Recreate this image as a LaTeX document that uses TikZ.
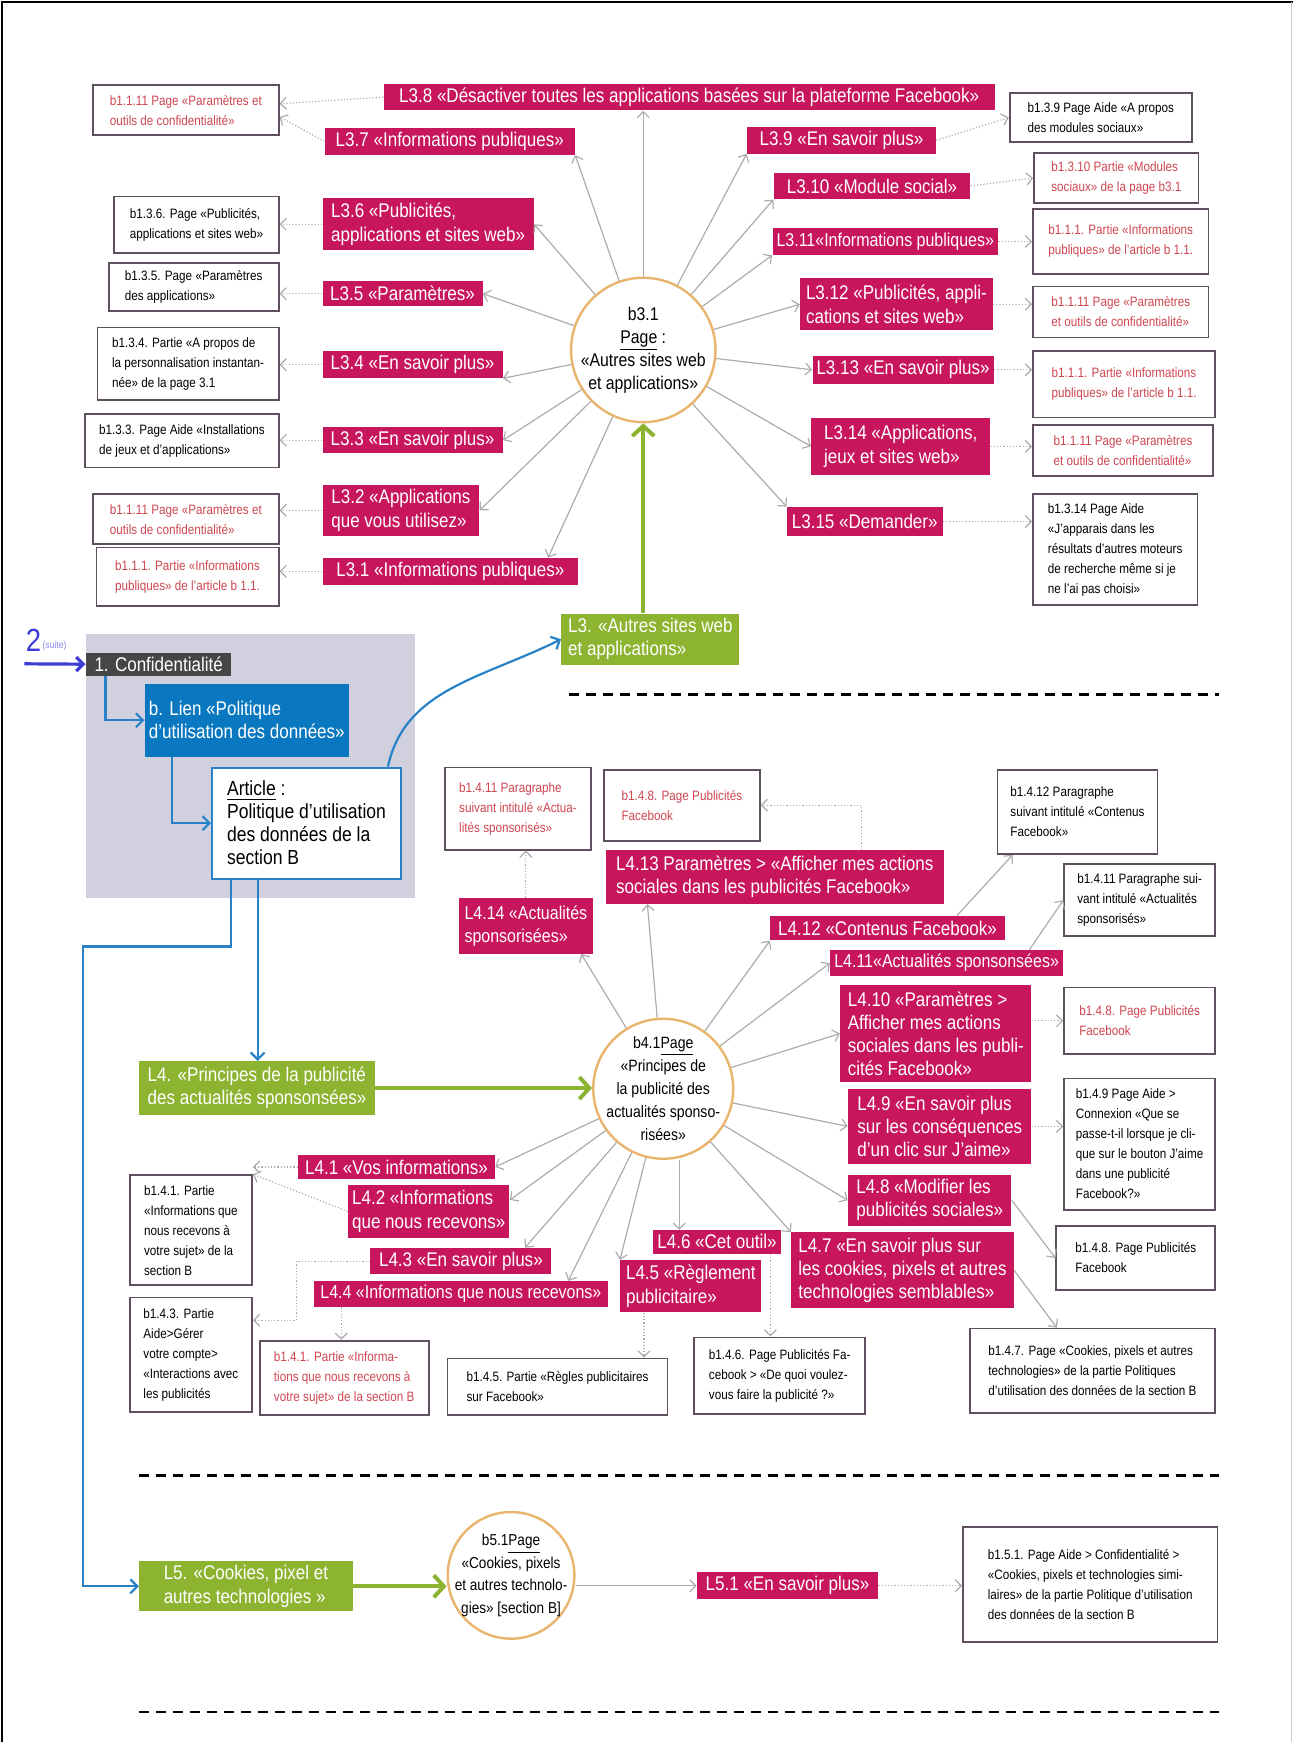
\documentclass[tikz,border=0pt]{standalone}
\usepackage{fontspec}
\setmainfont{Liberation Sans}[FakeStretch=0.86]
\setsansfont{Liberation Sans}[FakeStretch=0.86]
\usetikzlibrary{arrows.meta}

\definecolor{lnkc}{RGB}{200,22,92}
\definecolor{grnc}{RGB}{141,180,49}
\definecolor{bluc}{RGB}{40,130,200}
\definecolor{lienc}{RGB}{10,120,192}
\definecolor{confc}{RGB}{70,70,70}
\definecolor{zonac}{RGB}{208,208,222}
\definecolor{pgc}{RGB}{232,180,110}
\definecolor{refc}{RGB}{95,80,95}
\definecolor{redc}{RGB}{205,70,80}
\definecolor{twoc}{RGB}{60,60,215}

\begin{document}
\begin{tikzpicture}[x=0.5556pt, y=-0.5556pt,
    sz/.style 2 args={minimum width=#1*0.5556pt, minimum height=#2*0.5556pt},
    lnk/.style={fill=lnkc, text=white, font=\fontsize{9.9}{11.6}\selectfont, align=left, inner sep=2pt, anchor=north west},
    ozek/.style={font=\fontsize{9.3}{11.6}\selectfont},
    grn/.style={lnk, fill=grnc},
    ref/.style={draw=refc, line width=0.9pt, fill=white, font=\fontsize{6.8}{10}\selectfont, align=left, inner sep=2pt, anchor=north west},
    refr/.style={ref, text=redc},
    pg/.style={circle, draw=pgc, line width=1.2pt, fill=white, align=center, font=\fontsize{9.2}{11.5}\selectfont, inner sep=-10pt},
    ray/.style={draw=gray!65, line width=0.6pt, -{Straight Barb[length=3pt,width=6pt]}},
    dott/.style={ray, densely dotted},
    blu/.style={draw=bluc, line width=1.1pt, -{Straight Barb[length=3.5pt,width=7pt]}},
    grar/.style={draw=grnc, line width=2pt, -{Straight Barb[length=5pt,width=11pt]}},
    crta/.style={line width=1.3pt, dash pattern=on 5pt off 3.5pt}]

    \useasboundingbox (0,0) rectangle (1164,1568);
    \draw[line width=1.2pt] (2,1568) -- (2,2) -- (1164,2);
    \draw[gray!40] (1162,2) -- (1162,1568);

    % Vozlisca: stran b3.1
    \node[pg, minimum size=130*0.5556pt] (c3) at (579,315) {b3.1\\\underline{Page} :\\«Autres sites web\\et applications»};
    \node[lnk, sz={550}{23}] (L38) at (345,75) {L3.8 «Désactiver toutes les applications basées sur la plateforme Facebook»};
    \node[lnk, sz={225}{23}] (L37) at (292,115) {L3.7 «Informations publiques»};
    \node[lnk, sz={190}{47}] (L36) at (290,178) {L3.6 «Publicités,\\applications et sites web»};
    \node[lnk, sz={144}{22}] (L35) at (290,253) {L3.5 «Paramètres»};
    \node[lnk, sz={162}{22}] (L34) at (290,316) {L3.4 «En savoir plus»};
    \node[lnk, sz={162}{23}] (L33) at (290,384) {L3.3 «En savoir plus»};
    \node[lnk, sz={141}{46}] (L32) at (290,436) {L3.2 «Applications\\que vous utilisez»};
    \node[lnk, sz={230}{24}] (L31) at (290,502) {L3.1 «Informations publiques»};
    \node[lnk, sz={170}{23}] (L39) at (672,114) {L3.9 «En savoir plus»};
    \node[lnk, sz={177}{24}] (L310) at (696,155) {L3.10 «Module social»};
    \node[lnk, ozek, sz={198}{24}] (L311) at (695,205) {L3.11«Informations publiques»};
    \node[lnk, sz={173}{47}] (L312) at (720,250) {L3.12 «Publicités, appli-\\cations et sites web»};
    \node[lnk, sz={160}{25}] (L313) at (731,320) {L3.13 «En savoir plus»};
    \node[lnk, sz={161}{51}] (L314) at (730,376) {L3.14 «Applications,\\jeux et sites web»};
    \node[lnk, sz={140}{26}] (L315) at (708,456) {L3.15 «Demander»};

    \node[refr, sz={167}{45}] (bTL) at (83,76) {b1.1.11 Page «Paramètres et\\outils de confidentialité»};
    \node[ref, sz={148}{51}] (b136) at (102,176) {b1.3.6. Page «Publicités,\\applications et sites web»};
    \node[ref, sz={153}{43}] (b135) at (97,236) {b1.3.5. Page «Paramètres\\des applications»};
    \node[ref, sz={163}{65}] (b134) at (87,294) {b1.3.4. Partie «A propos de\\la personnalisation instantan-\\née» de la page 3.1};
    \node[ref, sz={174}{48}] (b133) at (76,372) {b1.3.3. Page Aide «Installations\\de jeux et d’applications»};
    \node[refr, sz={167}{45}] (bL2) at (83,444) {b1.1.11 Page «Paramètres et\\outils de confidentialité»};
    \node[refr, sz={164}{53}] (bL1) at (86,492) {b1.1.1. Partie «Informations\\publiques» de l’article b 1.1.};
    \node[ref, sz={164}{44}] (b139) at (908,83) {b1.3.9 Page Aide «A propos\\des modules sociaux»};
    \node[refr, sz={148}{45}] (b1310) at (930,137) {b1.3.10 Partie «Modules\\sociaux» de la page b3.1};
    \node[refr, sz={158}{59}] (bR1) at (929,187) {b1.1.1. Partie «Informations\\publiques» de l’article b 1.1.};
    \node[refr, sz={158}{46}] (bR2) at (929,257) {b1.1.11 Page «Paramètres\\et outils de confidentialité»};
    \node[refr, sz={164}{60}] (bR3) at (929,315) {b1.1.1. Partie «Informations\\publiques» de l’article b 1.1.};
    \node[refr, sz={162}{46}] (bR4) at (929,382) {b1.1.11 Page «Paramètres\\et outils de confidentialité»};
    \node[ref, sz={148}{100}] (b1314) at (929,444) {b1.3.14 Page Aide\\«J’apparais dans les\\résultats d’autres moteurs\\de recherche même si je\\ne l’ai pas choisi»};

    % Vozlisca: zacetek
    \node[fill=zonac, sz={296}{238}, anchor=north west] (zona) at (77,570) {};
    \node[grn, sz={160}{46}] (L3g) at (505,552) {L3. «Autres sites web\\et applications»};
    \node[text=twoc, font=\fontsize{16}{16}\selectfont, inner sep=0pt, anchor=south west] (n2) at (23,587) {2};
    \node[text=twoc!60, font=\fontsize{5}{5}\selectfont, inner sep=0pt, anchor=base west] (suite) at (38,584) {(suite)};
    \coordinate (p2) at (22,597.5);
    \node[lnk, fill=confc, sz={131}{21}] (conf) at (77,587) {1. Confidentialité};
    \node[lnk, fill=lienc, sz={182}{66}] (bLien) at (130,615) {b. Lien «Politique\\d’utilisation des données»};
    \node[lnk, fill=white, text=black, draw=bluc, line width=1pt, sz={170}{100}, font=\fontsize{10.2}{11.5}\selectfont] (art) at (190,690) {\underline{Article} :\\Politique d’utilisation\\des données de la\\section B};

    % Vozlisca: stran b4.1
    \node[pg, minimum size=126*0.5556pt, font=\fontsize{8.2}{11.5}\selectfont] (c4) at (597,980) {b4.1\underline{Page}\\«Principes de\\la publicité des\\actualités sponso-\\risées»};
    \node[grn, sz={212}{48}] (L4g) at (125,955) {L4. «Principes de la publicité\\des actualités sponsonsées»};
    \node[lnk, sz={304}{48}] (L413) at (545,765) {L4.13 Paramètres > «Afficher mes actions\\sociales dans les publicités Facebook»};
    \node[lnk, ozek, sz={120}{50}] (L414) at (413,808) {L4.14 «Actualités\\sponsorisées»};
    \node[lnk, sz={211}{22}] (L412) at (693,824) {L4.12 «Contenus Facebook»};
    \node[lnk, ozek, sz={204}{22}] (L411) at (747,855) {L4.11«Actualités sponsonsées»};
    \node[lnk, sz={172}{88}] (L410) at (756,886) {L4.10 «Paramètres >\\Afficher mes actions\\sociales dans les publi-\\cités Facebook»};
    \node[lnk, sz={165}{67}] (L49) at (763,980) {L4.9 «En savoir plus\\sur les conséquences\\d’un clic sur J’aime»};
    \node[lnk, sz={147}{46}] (L48) at (763,1057) {L4.8 «Modifier les\\publicités sociales»};
    \node[lnk, sz={200}{68}] (L47) at (712,1109) {L4.7 «En savoir plus sur\\les cookies, pixels et autres\\technologies semblables»};
    \node[lnk, sz={116}{21}] (L46) at (587,1107) {L4.6 «Cet outil»};
    \node[lnk, sz={127}{47}] (L45) at (558,1134) {L4.5 «Règlement\\publicitaire»};
    \node[lnk, ozek, sz={265}{23}] (L44) at (282,1153) {L4.4 «Informations que nous recevons»};
    \node[lnk, sz={163}{22}] (L43) at (333,1123) {L4.3 «En savoir plus»};
    \node[lnk, sz={138}{48}] (L42) at (313,1066) {L4.2 «Informations\\que nous recevons»};
    \node[lnk, sz={177}{22}] (L41) at (268,1039) {L4.1 «Vos informations»};

    \node[refr, sz={131}{74}] (b1411a) at (400,690) {b1.4.11 Paragraphe\\suivant intitulé «Actua-\\lités sponsorisés»};
    \node[refr, sz={140}{64}] (b148a) at (543,692) {b1.4.8. Page Publicités\\Facebook};
    \node[ref, sz={144}{76}] (b1412) at (897,692) {b1.4.12 Paragraphe\\suivant intitulé «Contenus\\Facebook»};
    \node[ref, sz={136}{65}] (b1411b) at (957,777) {b1.4.11 Paragraphe sui-\\vant intitulé «Actualités\\sponsorisés»};
    \node[refr, sz={136}{60}] (b148b) at (957,888) {b1.4.8. Page Publicités\\Facebook};
    \node[ref, sz={136}{118}] (b149) at (957,970) {b1.4.9 Page Aide >\\Connexion «Que se\\passe-t-il lorsque je cli-\\que sur le bouton J’aime\\dans une publicité\\Facebook?»};
    \node[ref, sz={143}{57}] (b148c) at (950,1103) {b1.4.8. Page Publicités\\Facebook};
    \node[ref, sz={110}{99}] (b141a) at (116,1057) {b1.4.1. Partie\\«Informations que\\nous recevons à\\votre sujet» de la\\section B};
    \node[ref, sz={110}{103}] (b143) at (116,1167) {b1.4.3. Partie\\Aide>Gérer\\votre compte>\\«Interactions avec\\les publicités};
    \node[refr, sz={152}{67}] (b141b) at (233,1206) {b1.4.1. Partie «Informa-\\tions que nous recevons à\\votre sujet» de la section B};
    \node[ref, sz={198}{51}] (b145) at (402,1222) {b1.4.5. Partie «Règles publicitaires\\sur Facebook»};
    \node[ref, sz={154}{69}] (b146) at (624,1203) {b1.4.6. Page Publicités Fa-\\cebook > «De quoi voulez-\\vous faire la publicité ?»};
    \node[ref, sz={221}{76}] (b147) at (872,1195) {b1.4.7. Page «Cookies, pixels et autres\\technologies» de la partie Politiques\\d’utilisation des données de la section B};

    % Vozlisca: stran b5.1
    \node[grn, sz={192}{45}] (L5g) at (125,1405) {L5. «Cookies, pixel et\\autres technologies »};
    \node[pg, minimum size=114*0.5556pt, font=\fontsize{7.9}{11.2}\selectfont] (c5) at (460,1418) {b5.1\underline{Page}\\«Cookies, pixels\\et autres technolo-\\gies» [section B]};
    \node[lnk, sz={163}{23}] (L51) at (627,1415) {L5.1 «En savoir plus»};
    \node[ref, sz={229}{103}] (b151) at (866,1374) {b1.5.1. Page Aide > Confidentialité >\\«Cookies, pixels et technologies simi-\\laires» de la partie Politique d’utilisation\\des données de la section B};

    % Locnice
    \draw[crta] (512,625) -- (1097,625);
    \draw[crta] (125,1328) -- (1097,1328);
    \draw[crta] (125,1541) -- (1097,1541);

    % Povezave: b3.1
    \draw[ray] (c3) -- (c3.north |- L38.south);
    \draw[ray] (c3) -- (L37.south east);
    \draw[ray] (c3) -- (L36.east);
    \draw[ray] (c3) -- (L35.east);
    \draw[ray] (c3) -- (L34.south east);
    \draw[ray] (c3) -- (L33.east);
    \draw[ray] (c3) -- (L32.east);
    \draw[ray] (c3) -- (L31.8);
    \draw[ray] (c3) -- (L39.south west);
    \draw[ray] (c3) -- (L310.south west);
    \draw[ray] (c3) -- (L311.south west);
    \draw[ray] (c3) -- (L312.west);
    \draw[ray] (c3) -- (L313.west);
    \draw[ray] (c3) -- (L314.west);
    \draw[ray] (c3) -- (L315.north west);

    \draw[dott] (L38.west) -- (bTL.4);
    \draw[dott] (L37.west) -- (bTL.-4);
    \draw[dott] (L36.west) -- (L36.west -| b136.east);
    \draw[dott] (L35.west) -- (L35.west -| b135.east);
    \draw[dott] (L34.west) -- (L34.west -| b134.east);
    \draw[dott] (L33.west) -- (L33.west -| b133.east);
    \draw[dott] (L32.west) -- (L32.west -| bL2.east);
    \draw[dott] (L31.west) -- (L31.west -| bL1.east);
    \draw[dott] (L39.east) -- (b139.west);
    \draw[dott] (L310.east) -- (b1310.west);
    \draw[dott] (L311.east) -- (L311.east -| bR1.west);
    \draw[dott] (L312.east) -- (L312.east -| bR2.west);
    \draw[dott] (L313.east) -- (L313.east -| bR3.west);
    \draw[dott] (L314.east) -- (L314.east -| bR4.west);
    \draw[dott] (L315.east) -- (L315.east -| b1314.west);

    % Povezave: zacetek
    \draw[grar] (L3g.north -| c3) -- (c3.south);
    \draw[blu, draw=twoc, line width=1.6pt] (p2) -- (conf.west);
    \draw[blu] ([xshift=10pt]conf.south west) |- (bLien.west);
    \draw[blu] ([xshift=13.9pt]bLien.south west) |- (art.west);
    \draw[blu] ([xshift=-7pt]art.north east) .. controls +(15,-70) and +(-70,35) .. (L3g.west);
    \draw[blu] ([xshift=23.3pt]art.south west) -- ([xshift=23.3pt]art.south west |- L4g.north);
    \coordinate (zavoj) at (75,852);
    \draw[blu] ([xshift=10pt]art.south west) |- (zavoj) |- (L5g.west);

    % Povezave: b4.1
    \draw[grar] (L4g.east) -- (L4g.east -| c4.west);
    \draw[ray] (c4) -- (L414.-27);
    \draw[ray] (c4) -- (L413.-168);
    \draw[ray] (c4) -- (L412.south west);
    \draw[ray] (c4) -- (L411.west);
    \draw[ray] (c4) -- (L410.west);
    \draw[ray] (c4) -- (L49.west);
    \draw[ray] (c4) -- (L48.west);
    \draw[ray] (c4) -- (L47.north west);
    \draw[ray] ([xshift=8pt]c4.south) -- ([xshift=8pt]c4.south |- L46.north);
    \draw[ray] (c4) -- (L45.north west);
    \draw[ray] (c4) -- (L44.7);
    \draw[ray] (c4) -- (L43.12);
    \draw[ray] (c4) -- (L42.8);
    \draw[ray] (c4) -- (L41.east);

    \draw[dott] (L414.north) -- (L414.north |- b1411a.south);
    \draw[dott] ([xshift=43.3pt]L413.north) |- (b148a.east);
    \draw[ray] ([xshift=-24pt]L412.north east) -- ([xshift=8pt]b1412.south west);
    \draw[ray] ([xshift=-17pt]L411.north east) -- (b1411b.west);
    \draw[dott] (L410.east |- b148b.west) -- (b148b.west);
    \draw[dott] (L49.east) -- (L49.east -| b149.west);
    \draw[ray] (L48.east) -- (b148c.west);
    \draw[ray] (L47.east) -- ([xshift=44pt]b147.north west);
    \draw[dott] ([xshift=26.7pt]L46.south) -- ([xshift=26.7pt]L46.south |- b146.north);
    \draw[dott] ([xshift=12pt]L45.south west) -- ([xshift=12pt]L45.south west |- b145.north);
    \draw[dott] ([xshift=14pt]L44.south west) -- ([xshift=14pt]L44.south west |- b141b.north);
    \draw[dott] (L43.west) -| ([xshift=21.7pt]b143.29) -- (b143.29);
    \draw[dott] (L41.west) -- (L41.west -| b141a.east);
    \draw[dott] (L42.west) -- (b141a.north east);

    % Povezave: b5.1
    \draw[grar] (L5g.east) -- (L5g.east -| c5.west);
    \draw[ray] (L51.west -| c5.east) -- (L51.west);
    \draw[dott] (L51.east) -- (L51.east -| b151.west);

\end{tikzpicture}
\end{document}
